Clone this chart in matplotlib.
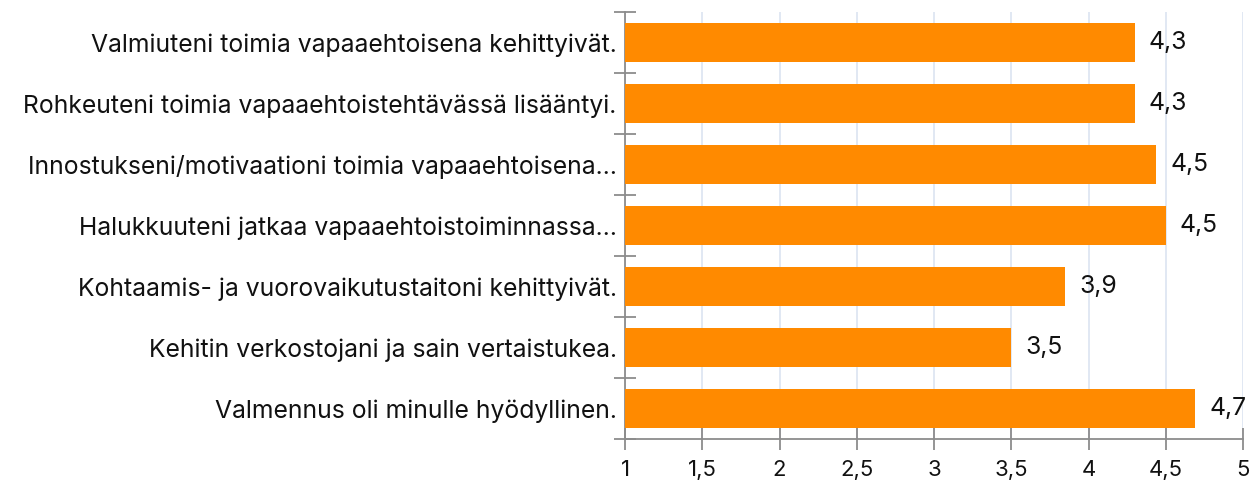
import matplotlib
matplotlib.use("Agg")
import matplotlib.pyplot as plt
import numpy as np

categories = [
    "Valmiuteni toimia vapaaehtoisena kehittyivät.",
    "Rohkeuteni toimia vapaaehtoistehtävässä lisääntyi.",
    "Innostukseni/motivaationi toimia vapaaehtoisena…",
    "Halukkuuteni jatkaa vapaaehtoistoiminnassa…",
    "Kohtaamis- ja vuorovaikutustaitoni kehittyivät.",
    "Kehitin verkostojani ja sain vertaistukea.",
    "Valmennus oli minulle hyödyllinen.",
]
values = [4.30, 4.30, 4.44, 4.50, 3.85, 3.50, 4.69]
labels = ["4,3", "4,3", "4,5", "4,5", "3,9", "3,5", "4,7"]
xticks = [1, 1.5, 2, 2.5, 3, 3.5, 4, 4.5, 5]
xticklabels = ["1", "1,5", "2", "2,5", "3", "3,5", "4", "4,5", "5"]

plt.rcParams['font.family'] = ['Inter', 'DejaVu Sans']
FS = 17.8

fig = plt.figure(figsize=(12.58, 4.84), dpi=100)
ax = fig.add_axes([625/1258, 1-439/484, (1243-625)/1258, (439-12)/484])

y = np.arange(len(categories))
ax.barh(y, np.array(values) - 1, left=1, height=0.64, color="#FF8A00", zorder=3)
for yi, v, lab in zip(y, values, labels):
    ax.text(v + 0.09, yi, lab, va="center", ha="left", fontsize=FS, color="#111111")

ax.set_xlim(1, 5)
ax.set_ylim(len(categories) - 0.5, -0.5)
ax.set_xticks(xticks)
ax.set_xticklabels(xticklabels, fontsize=16)
ax.set_yticks(y)
ax.set_yticklabels(categories, fontsize=FS, color="#111111")
ax.set_yticks(np.arange(-0.5, len(categories), 1), minor=True)
ax.tick_params(axis="y", which="major", length=0, pad=6)
ax.tick_params(axis="y", which="minor", length=16, direction="inout", color="#8c8c8c", width=1.3)
ax.tick_params(axis="x", which="major", length=16, direction="inout", color="#8c8c8c", width=1.3, pad=7, labelcolor="#111111")

ax.grid(axis="x", color="#dbe4f1", linewidth=1.2, zorder=0)
for s in ["top", "right"]:
    ax.spines[s].set_visible(False)
for s in ["left", "bottom"]:
    ax.spines[s].set_color("#8c8c8c")
    ax.spines[s].set_linewidth(1.3)

fig.savefig("out.png", dpi=100)
